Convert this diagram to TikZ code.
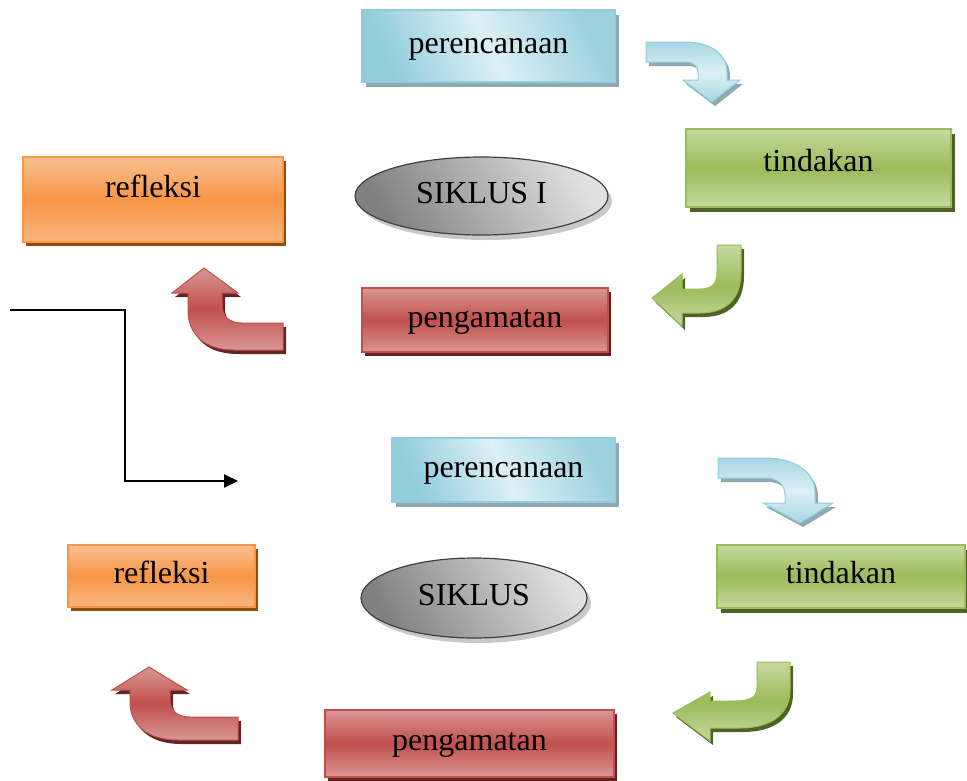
\documentclass[tikz,border=0pt]{standalone}
\usepackage{fontspec}
\setmainfont{Liberation Serif}
\usetikzlibrary{shapes.geometric,shadows,arrows.meta}
\definecolor{bluemid}{HTML}{92CDDC}
\definecolor{bluelight}{HTML}{DDF0F5}
\definecolor{blueborder}{HTML}{93CDDD}
\definecolor{blueshadow}{HTML}{8FA9B3}
\definecolor{greenmid}{HTML}{9BBB59}
\definecolor{greenlight}{HTML}{C6D9A0}
\definecolor{greenborder}{HTML}{9BBB59}
\definecolor{greenshadow}{HTML}{4F6228}
\definecolor{orangemid}{HTML}{F79646}
\definecolor{orangelight}{HTML}{FAC090}
\definecolor{orangeshadow}{HTML}{984807}
\definecolor{redmid}{HTML}{C0504D}
\definecolor{redlight}{HTML}{DA9694}
\definecolor{redshadow}{HTML}{632523}
\definecolor{graydark}{HTML}{808080}
\definecolor{graymid}{HTML}{B0B0B0}
\definecolor{graylight}{HTML}{E0E0E0}
\definecolor{grayborder}{HTML}{404040}
\definecolor{grayshadow}{HTML}{C8C8C8}
\tikzset{
  box/.style={rectangle, line width=1.2pt, inner sep=0pt,
    font=\fontsize{32}{36}\selectfont, text height=21pt, text depth=7pt},
  bluebox/.style={box, draw=blueborder, left color=bluemid, right color=bluemid!90,
    middle color=bluelight, shading angle=115,
    drop shadow={shadow xshift=4pt, shadow yshift=-5pt, fill=blueshadow, opacity=1}},
  greenbox/.style={box, draw=greenborder, top color=greenlight, bottom color=greenlight,
    middle color=greenmid,
    drop shadow={shadow xshift=4pt, shadow yshift=-5pt, fill=greenshadow, opacity=1}},
  orangebox/.style={box, draw=orangemid, top color=orangelight,
    bottom color=orangelight!80!orangemid, middle color=orangemid,
    drop shadow={shadow xshift=3pt, shadow yshift=-4pt, fill=orangeshadow, opacity=1}},
  redbox/.style={box, draw=redmid, top color=redlight, bottom color=redlight,
    middle color=redmid,
    drop shadow={shadow xshift=3pt, shadow yshift=-4pt, fill=redshadow, opacity=1}},
  grayellipse/.style={ellipse, line width=1.2pt, inner sep=0pt, draw=grayborder,
    left color=graydark, right color=graylight, middle color=graymid, shading angle=120,
    font=\fontsize{32}{36}\selectfont, text height=21pt, text depth=7pt,
    drop shadow={shadow xshift=4pt, shadow yshift=-5pt, fill=grayshadow, opacity=1}},
  bluearrow/.style={draw=blueborder, line width=1pt, top color=bluemid!80, bottom color=bluemid!80,
    middle color=bluelight},
  greenarrow/.style={draw=greenborder, line width=1pt, top color=greenlight, bottom color=greenlight,
    middle color=greenmid},
  redarrow/.style={draw=redmid, line width=1pt, top color=redlight, bottom color=redlight,
    middle color=redmid},
  flow/.style={line width=2pt, -{Triangle[length=14pt,width=13pt]}},
}
\newcommand{\bentarrow}[3]{%
  \fill[#2, shift={(3,4)}] #3;
  \path[#1] #3;
}
\begin{document}
\begin{tikzpicture}[x=1pt, y=-1pt]
\useasboundingbox (0,0) rectangle (967,780);

% ---------- Siklus I ----------
\node[bluebox, minimum width=253pt, minimum height=72pt] (p1) at (488.5,46) {perencanaan};
\node[greenbox, minimum width=265pt, minimum height=78pt, text depth=15pt] (t1) at (818.5,168) {tindakan};
\node[orangebox, minimum width=260pt, minimum height=85pt, text depth=25pt] (r1) at (153,199.5) {refleksi};
\node[grayellipse, minimum width=253pt, minimum height=78pt] (s1) at (481.5,196) {SIKLUS I};
\node[redbox, minimum width=246pt, minimum height=64pt] (g1) at (485,320) {pengamatan};

\bentarrow{bluearrow}{blueshadow}{(646,42) -- (685,42) .. controls (712,42) and (727,55) .. (727,72) -- (727,80) -- (740,80) -- (712,102) -- (683,80) -- (698,80) -- (698,72) .. controls (698,66) and (693,62) .. (685,62) -- (646,62) -- cycle}
\bentarrow{greenarrow}{greenshadow}{(717,245) -- (741,245) -- (741,272) .. controls (741,300) and (725,313) .. (700,313) -- (682,313) -- (682,326) -- (652,298) -- (682,274) -- (682,289) -- (700,289) .. controls (712,289) and (717,284) .. (717,272) -- cycle}
\bentarrow{redarrow}{redshadow}{(283,323) -- (242,323) .. controls (229,323) and (222,316) .. (222,305) -- (222,293) -- (238,293) -- (204,268) -- (172,293) -- (188,293) -- (188,310) .. controls (188,335) and (205,350) .. (235,350) -- (283,350) -- cycle}

% ---------- connector ----------
\coordinate (cs) at (10,310);
\coordinate (ck) at (125,395);
\coordinate (ce) at (238,481);
\draw[flow] (cs) -| (ck) |- (ce);

% ---------- Siklus II ----------
\node[bluebox, minimum width=223pt, minimum height=64pt] (p2) at (503.5,470) {perencanaan};
\node[greenbox, minimum width=248pt, minimum height=63pt] (t2) at (841,576.5) {tindakan};
\node[orangebox, minimum width=187pt, minimum height=62pt] (r2) at (161.5,576) {refleksi};
\node[grayellipse, minimum width=226pt, minimum height=80pt] (s2) at (474,598) {SIKLUS};
\node[redbox, minimum width=289pt, minimum height=67pt] (g2) at (469.5,743.5) {pengamatan};

\bentarrow{bluearrow}{blueshadow}{(718,458) -- (765,458) .. controls (795,458) and (815,472) .. (815,492) -- (815,503) -- (833,503) -- (800,523) -- (763,503) -- (785,503) -- (785,495) .. controls (785,485) and (778,478) .. (765,478) -- (718,478) -- cycle}
\bentarrow{greenarrow}{greenshadow}{(757,662) -- (790,662) -- (790,690) .. controls (790,715) and (770,728) .. (740,728) -- (710,728) -- (710,741) -- (673,713) -- (710,692) -- (710,701) -- (735,701) .. controls (750,701) and (757,697) .. (757,688) -- cycle}
\bentarrow{redarrow}{redshadow}{(238,717) -- (190,717) .. controls (177,717) and (170,710) .. (170,700) -- (170,690) -- (187,690) -- (149,667) -- (112,690) -- (130,690) -- (130,702) .. controls (130,725) and (148,740) .. (178,740) -- (238,740) -- cycle}
\end{tikzpicture}
\end{document}
